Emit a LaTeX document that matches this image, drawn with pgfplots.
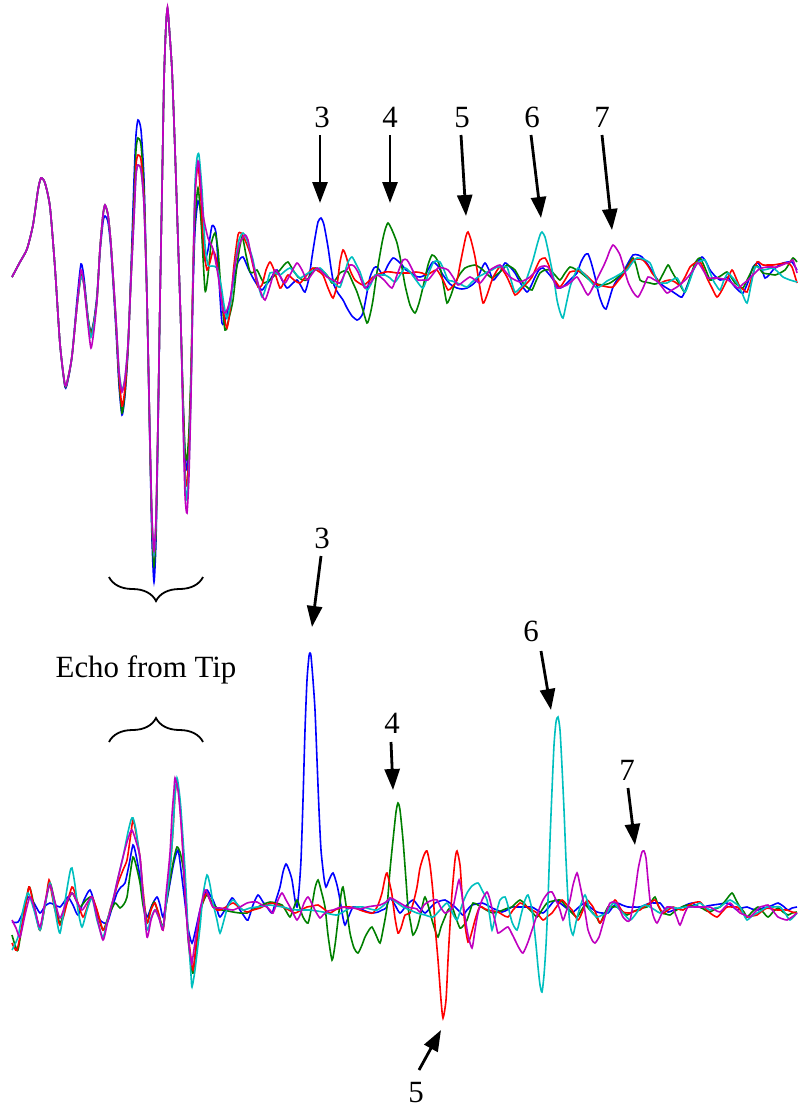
\documentclass[border=0pt]{standalone}
\usepackage{fontspec}
\setmainfont{Liberation Serif}
\usepackage{pgfplots}
\pgfplotsset{compat=1.18}
\usetikzlibrary{arrows.meta,decorations.pathreplacing}
\definecolor{cB}{RGB}{0,0,255}
\definecolor{cG}{RGB}{0,128,0}
\definecolor{cR}{RGB}{255,0,0}
\definecolor{cC}{RGB}{0,191,191}
\definecolor{cM}{RGB}{191,0,191}
\begin{document}
\begin{tikzpicture}
\begin{axis}[width=797bp,height=1109bp,scale only axis,xmin=0,xmax=797,ymin=0,ymax=1109,y dir=reverse,hide axis,clip=false,
  every axis plot/.append style={no marks,line width=1.6bp,smooth,tension=0.4}]
% ---------------- TOP PANEL ----------------
\addplot[cB] coordinates {(12,277) (20,262) (27,249) (33,225) (38,190) (41,178) (45,183) (50,207) (55,268) (60,344) (65,387) (68,380) (72,356) (77,300) (81,264) (84,278) (88,318) (91,332) (94,320) (97,295) (100,252) (103,222) (105,216) (108,222) (111,250) (116,330) (119,385) (122,415) (125,395) (128,350) (131,270) (134,180) (136,135) (138,120) (141,130) (144,180) (147,300) (150,450) (152,540) (154,582) (156,540) (158,430) (160,300) (162,191) (164,80) (166,25) (167.5,10) (169,25) (172,70) (175,150) (178,240) (181,330) (183,400) (185,455) (187,470) (189,440) (191,383) (193,290) (195,230) (198,201) (201,215) (204,260) (208,250) (212,226) (216,233) (219,280) (222,323) (226,318) (230,300) (234,280) (238,262) (243,257) (248,268) (253,278) (258,286) (262,290) (266,285) (270,280) (274,273) (277,270) (282,280) (287,288) (292,284) (297,280) (301,286) (305,292) (309,278) (312,257) (315,238) (318,222) (321,218) (324,225) (328,247) (331,268) (334,285) (338,293) (343,300) (347,308) (352,316) (357,320) (360,318) (363,313) (366,298) (370,277) (374,268) (377,267) (380,271) (383,275) (388,265) (393,258) (398,261) (402,265) (406,270) (410,272) (415,276) (420,277) (425,275) (429,268) (433,262) (438,266) (443,275) (450,284) (457,288) (462,289) (467,288) (472,285) (477,280) (481,270) (485,263) (489,270) (493,280) (497,276) (500,272) (505,263) (510,267) (515,273) (521,284) (527,292) (531,286) (535,277) (539,270) (543,268) (548,273) (552,278) (556,284) (560,288) (564,286) (568,282) (572,278) (577,273) (581,262) (585,255) (588,254) (591,262) (595,277) (599,295) (603,306) (606,309) (609,300) (613,287) (617,280) (622,275) (627,265) (633,255) (638,255) (642,257) (646,262) (650,268) (655,276) (660,283) (665,287) (670,290) (676,294) (682,297) (687,286) (692,273) (697,263) (702,257) (706,262) (710,270) (715,276) (720,280) (724,279) (728,277) (731,282) (735,287) (739,291) (743,293) (748,282) (753,267) (758,263) (762,270) (765,278) (769,275) (773,270) (778,266) (783,263) (788,262) (792,262) (797,270)};
\addplot[cG] coordinates {(12,277) (20,262) (27,249) (33,225) (38,190) (41,178) (45,183) (50,207) (55,268) (60,344) (65,386) (68,379) (72,356) (77,306) (81,275) (84,283) (88,318) (91,333) (94,321) (97,298) (100,249) (103,215) (105,206) (108,215) (111,245) (116,325) (119,380) (122,413) (125,392) (128,348) (131,275) (134,200) (136,150) (138,138) (141,145) (144,190) (147,300) (150,445) (152,530) (154,566) (156,530) (158,425) (160,300) (162,191) (164,80) (166,25) (167.5,9) (169,25) (172,70) (175,150) (178,240) (181,330) (183,395) (185,450) (187,459) (189,430) (191,370) (193,280) (195,220) (198,188) (201,220) (205,290) (208,275) (211,245) (215,233) (218,250) (221,290) (225,330) (229,318) (233,300) (237,265) (242,237) (246,255) (250,272) (254,272) (257,270) (261,278) (264,283) (268,281) (272,278) (276,274) (280,270) (284,265) (288,262) (293,270) (298,277) (303,280) (307,280) (311,274) (315,268) (320,270) (325,273) (329,278) (332,283) (336,279) (340,273) (344,271) (348,272) (353,283) (357,292) (362,307) (367,323) (370,315) (373,300) (377,272) (382,243) (385,230) (388,223) (392,230) (397,243) (401,262) (405,285) (410,305) (415,313) (419,303) (423,287) (428,265) (432,255) (436,258) (440,267) (444,288) (447,303) (451,295) (455,283) (460,274) (465,268) (470,266) (475,265) (479,267) (483,270) (488,275) (492,278) (496,275) (500,272) (504,268) (507,265) (511,267) (515,270) (519,277) (523,283) (528,288) (532,290) (536,281) (540,273) (545,270) (550,270) (555,275) (560,280) (565,273) (570,267) (575,269) (580,272) (586,277) (592,282) (597,284) (603,285) (610,283) (617,278) (622,273) (627,267) (630,262) (633,258) (636,265) (640,280) (645,282) (650,283) (654,284) (658,283) (663,274) (668,265) (671,270) (675,277) (680,285) (685,292) (690,278) (695,263) (700,258) (705,268) (710,280) (713,279) (717,278) (722,275) (727,272) (731,277) (735,283) (739,286) (743,288) (749,276) (755,265) (759,268) (763,273) (769,274) (775,275) (780,273) (785,270) (789,264) (793,258) (797,262)};
\addplot[cR] coordinates {(12,277) (20,262) (27,249) (33,225) (38,190) (41,178) (45,183) (50,207) (55,268) (60,344) (65,385) (68,378) (72,356) (77,306) (81,277) (84,285) (88,320) (91,336) (94,322) (97,300) (100,249) (103,215) (105,205) (108,215) (111,245) (116,322) (119,375) (122,406) (125,388) (128,346) (131,278) (134,210) (136,165) (138,155) (141,160) (144,200) (147,300) (150,442) (152,522) (154,555) (156,522) (158,421) (160,300) (162,191) (164,80) (166,25) (167.5,8) (169,25) (172,70) (175,150) (178,240) (181,330) (183,405) (185,470) (187,486) (189,450) (191,383) (193,270) (195,195) (198,165) (201,200) (204,250) (207,270) (210,262) (213,251) (216,258) (220,285) (224,315) (227,328) (230,310) (234,265) (238,235) (241,233) (245,240) (250,253) (254,270) (258,287) (262,285) (266,270) (270,262) (274,270) (280,288) (284,282) (288,275) (294,280) (300,283) (306,276) (313,268) (318,271) (323,275) (328,288) (333,298) (337,285) (340,262) (343,250) (346,256) (350,270) (355,280) (363,285) (368,282) (373,277) (379,274) (385,272) (391,272) (397,273) (403,273) (410,273) (416,272) (422,273) (427,275) (432,272) (437,270) (443,280) (448,290) (452,287) (457,280) (460,265) (463,250) (466,236) (468,232) (471,240) (475,257) (479,282) (483,303) (487,295) (492,280) (496,272) (500,267) (504,272) (507,277) (511,286) (515,295) (519,292) (523,287) (528,282) (532,277) (536,268) (540,260) (545,258) (549,266) (552,277) (556,282) (560,287) (565,280) (570,272) (576,271) (582,272) (588,277) (593,282) (598,285) (603,286) (608,287) (613,287) (618,281) (623,275) (628,267) (633,260) (638,259) (643,260) (648,266) (652,273) (656,278) (660,283) (665,281) (670,280) (675,282) (680,285) (685,277) (690,267) (695,263) (700,262) (704,270) (707,278) (712,288) (717,297) (722,290) (727,280) (732,270) (736,278) (740,287) (744,290) (747,292) (752,277) (757,262) (760,263) (763,265) (768,265) (773,265) (779,264) (785,263) (789,264) (792,267) (797,283)};
\addplot[cC] coordinates {(12,277) (20,262) (27,249) (33,225) (38,190) (41,178) (45,183) (50,207) (55,268) (60,344) (65,385) (68,378) (72,356) (77,306) (81,277) (84,285) (88,320) (91,337) (94,323) (97,300) (100,249) (103,215) (105,205) (108,215) (111,245) (116,320) (119,370) (122,390) (125,378) (128,344) (131,280) (134,218) (136,175) (138,165) (141,170) (144,205) (147,300) (150,440) (152,520) (154,555) (156,520) (158,421) (160,300) (162,191) (164,80) (166,25) (167.5,8) (169,25) (172,70) (175,150) (178,240) (181,330) (183,410) (185,480) (187,500) (189,465) (191,390) (193,280) (195,185) (197,158) (199,155) (202,190) (205,245) (208,265) (212,266) (217,268) (221,285) (224,305) (227,318) (231,300) (235,265) (239,240) (243,233) (247,240) (250,250) (253,260) (257,280) (262,297) (266,287) (270,273) (275,273) (280,275) (285,271) (290,268) (295,273) (300,278) (305,275) (310,272) (315,270) (320,268) (325,273) (330,280) (335,284) (340,287) (344,275) (348,262) (352,257) (356,264) (360,272) (363,281) (367,290) (371,284) (375,275) (380,275) (385,275) (390,278) (395,282) (400,275) (405,268) (410,272) (416,280) (423,288) (428,275) (433,263) (436,261) (440,262) (444,270) (448,280) (452,281) (457,283) (462,285) (467,287) (472,282) (478,277) (482,275) (487,272) (492,270) (497,267) (502,267) (507,267) (511,280) (515,292) (520,288) (525,283) (529,272) (533,260) (537,245) (540,235) (542,232) (545,237) (548,250) (550,260) (554,280) (557,300) (560,312) (563,318) (566,305) (570,287) (574,276) (578,268) (582,272) (587,277) (592,283) (597,288) (602,285) (607,281) (613,278) (620,274) (627,270) (632,263) (637,258) (643,259) (650,263) (654,273) (658,283) (662,283) (667,283) (672,280) (677,278) (681,285) (685,292) (690,280) (694,268) (697,263) (701,261) (705,260) (709,270) (713,280) (716,285) (720,290) (724,280) (728,273) (732,277) (737,283) (742,293) (747,303) (751,285) (755,267) (759,268) (763,270) (768,269) (773,268) (778,272) (783,277) (790,280) (797,282)};
\addplot[cM] coordinates {(12,277) (20,262) (27,249) (33,225) (38,190) (41,178) (45,183) (50,207) (55,268) (60,344) (65,385) (68,378) (72,356) (77,306) (81,270) (84,285) (88,325) (91,348) (94,330) (97,300) (100,249) (103,215) (105,205) (108,215) (111,245) (116,320) (119,372) (122,392) (125,378) (128,344) (131,280) (134,218) (136,175) (138,165) (141,170) (144,205) (147,300) (150,440) (152,518) (154,551) (156,518) (158,421) (160,300) (162,191) (164,80) (166,25) (167.5,7) (169,25) (172,70) (175,150) (178,240) (181,330) (183,420) (185,495) (187,513) (189,475) (191,395) (193,285) (195,195) (198,161) (200,175) (203,214) (208,238) (213,249) (218,275) (223,310) (226,312) (230,300) (235,265) (240,243) (245,235) (248,240) (251,255) (255,272) (260,290) (265,300) (270,286) (275,270) (280,276) (285,283) (291,273) (297,263) (302,270) (307,280) (312,274) (317,268) (322,272) (327,277) (333,280) (340,283) (345,273) (350,265) (354,266) (358,272) (362,282) (365,288) (371,282) (377,275) (384,280) (392,288) (397,275) (403,260) (407,260) (410,265) (414,273) (418,280) (423,280) (428,280) (433,274) (438,268) (443,268) (448,270) (453,277) (458,285) (464,281) (470,277) (475,280) (480,283) (485,277) (490,270) (495,267) (500,265) (505,271) (510,277) (515,280) (520,282) (525,280) (530,277) (535,272) (540,267) (544,266) (548,267) (552,276) (557,288) (562,287) (567,285) (572,281) (577,277) (582,285) (588,295) (594,285) (600,273) (604,265) (607,258) (610,250) (613,245) (616,248) (620,255) (624,268) (628,282) (633,292) (638,297) (643,288) (648,277) (653,279) (658,282) (662,287) (667,293) (672,290) (677,287) (682,283) (688,277) (693,270) (698,263) (703,270) (708,278) (713,278) (718,278) (723,279) (728,280) (733,284) (738,288) (743,284) (748,280) (753,275) (758,270) (762,268) (767,267) (772,267) (777,267) (782,265) (787,263) (790,262) (793,260) (797,273)};
% ---------------- BOTTOM PANEL ----------------
\addplot[cB] coordinates {(12,922) (18,922) (23,912) (28,897) (34,903) (40,913) (45,906) (50,903) (55,905) (60,907) (64,902) (68,897) (73,905) (78,915) (84,900) (90,890) (95,905) (100,920) (107,923) (112,908) (117,893) (121,887) (125,883) (129,865) (133,845) (136,855) (140,877) (143,900) (147,917) (152,905) (157,897) (160,905) (163,917) (167,900) (170,883) (174,862) (178,850) (181,870) (185,903) (188,928) (192,943) (196,928) (200,910) (204,897) (207,890) (210,895) (213,900) (217,910) (220,917) (226,908) (232,898) (236,903) (240,910) (244,916) (248,920) (253,905) (258,895) (263,902) (267,907) (272,913) (276,900) (280,887) (283,872) (286,864) (289,870) (292,880) (295,900) (297,907) (299,890) (301,860) (303,800) (305,730) (307,680) (309,656) (310,653) (311,656) (313,680) (315,710) (317,760) (319,810) (321,850) (324,878) (326,887) (329,880) (333,873) (337,885) (340,900) (343,918) (345,925) (348,918) (353,907) (358,908) (363,910) (368,912) (373,913) (378,912) (382,910) (386,908) (390,898) (395,905) (400,913) (406,906) (413,900) (419,907) (425,913) (430,908) (435,903) (440,901) (445,900) (450,903) (455,907) (459,911) (463,915) (467,910) (472,905) (477,904) (482,903) (487,905) (492,908) (497,910) (502,912) (507,910) (512,907) (517,907) (522,907) (527,907) (532,907) (537,910) (543,913) (549,907) (555,900) (560,903) (565,907) (569,910) (573,912) (579,907) (585,903) (591,908) (597,912) (602,913) (608,913) (612,908) (617,903) (622,905) (628,907) (634,907) (640,907) (645,905) (650,903) (655,903) (660,903) (664,908) (668,912) (674,910) (680,908) (686,905) (692,903) (697,906) (702,908) (707,906) (713,905) (720,904) (727,903) (732,906) (737,910) (742,908) (747,907) (752,909) (758,910) (763,908) (768,907) (773,905) (778,903) (783,906) (788,910) (792,908) (797,907)};
\addplot[cG] coordinates {(12,935) (15,945) (18,950) (23,920) (29,887) (34,905) (40,930) (45,905) (50,883) (55,903) (60,923) (66,905) (72,893) (76,900) (80,907) (86,900) (92,897) (97,912) (103,930) (109,915) (115,903) (120,908) (124,904) (127,897) (130,875) (133,857) (136,865) (140,883) (143,905) (147,923) (150,912) (154,902) (158,912) (163,927) (166,905) (170,880) (174,858) (177,847) (180,852) (183,867) (186,900) (188,937) (191,965) (193,973) (196,950) (200,913) (204,900) (207,895) (212,902) (217,908) (222,910) (228,911) (233,912) (240,913) (247,913) (252,910) (258,907) (264,904) (270,902) (276,903) (282,905) (286,911) (290,917) (293,910) (297,900) (300,908) (303,917) (308,923) (312,905) (315,888) (318,880) (321,890) (325,907) (328,935) (332,960) (335,945) (338,920) (341,895) (343,887) (346,905) (350,933) (354,948) (358,953) (362,945) (365,937) (369,930) (372,927) (376,935) (380,943) (383,930) (387,907) (390,870) (393,840) (396,812) (398,803) (400,810) (403,840) (406,880) (408,907) (411,925) (413,935) (417,928) (420,917) (423,903) (425,897) (428,905) (432,920) (435,930) (438,937) (441,927) (445,917) (448,910) (452,907) (456,918) (460,928) (464,925) (467,920) (470,911) (473,903) (478,905) (483,908) (488,911) (493,913) (498,912) (503,910) (508,908) (512,907) (516,903) (520,900) (524,903) (527,907) (532,912) (537,917) (542,910) (547,903) (553,901) (560,900) (564,904) (567,908) (572,913) (577,917) (581,911) (585,905) (589,909) (593,913) (597,918) (600,923) (604,915) (608,907) (613,907) (617,907) (622,911) (627,915) (632,912) (637,910) (642,908) (647,907) (651,902) (655,897) (658,905) (662,913) (666,914) (670,915) (675,911) (680,908) (684,906) (688,905) (694,906) (700,907) (705,910) (710,912) (715,909) (720,907) (726,900) (732,893) (736,900) (740,907) (744,912) (747,917) (752,912) (758,907) (763,912) (768,917) (773,912) (778,908) (783,912) (788,915) (792,913) (797,912)};
\addplot[cR] coordinates {(12,943) (17,950) (23,920) (29,887) (33,903) (37,920) (40,930) (45,905) (49,880) (52,895) (55,910) (60,925) (64,915) (67,903) (72,887) (75,893) (77,900) (83,917) (88,905) (92,897) (97,910) (103,930) (107,922) (110,910) (114,897) (118,883) (123,870) (127,860) (130,840) (133,820) (136,833) (140,857) (143,890) (147,923) (151,910) (155,903) (159,915) (163,930) (166,905) (170,870) (173,830) (175,795) (177,783) (179,795) (181,820) (183,853) (185,890) (187,920) (190,950) (193,970) (196,945) (200,913) (204,898) (207,893) (210,900) (213,907) (217,910) (220,910) (226,907) (233,903) (240,908) (247,912) (253,910) (260,908) (266,905) (272,903) (278,905) (283,907) (289,910) (295,913) (301,910) (307,907) (313,906) (318,905) (324,909) (330,913) (335,910) (340,908) (345,907) (350,907) (355,908) (360,910) (366,912) (373,913) (378,905) (382,893) (385,878) (387,873) (390,885) (392,895) (395,918) (398,933) (401,928) (405,915) (410,913) (414,900) (417,887) (420,868) (424,855) (427,851) (430,865) (433,893) (435,925) (438,960) (441,1000) (443,1018) (446,1000) (448,960) (450,925) (452,893) (455,860) (457,851) (460,865) (462,893) (465,925) (468,942) (471,935) (475,920) (479,908) (482,907) (485,909) (488,910) (493,911) (498,912) (503,915) (508,917) (513,910) (520,903) (524,905) (527,907) (532,910) (537,913) (543,920) (548,916) (552,913) (557,906) (562,900) (567,905) (572,910) (578,920) (583,910) (587,900) (590,903) (593,907) (597,916) (600,923) (605,915) (610,908) (615,900) (619,906) (623,912) (630,913) (635,911) (640,910) (645,906) (650,903) (655,900) (659,907) (663,913) (668,910) (673,907) (678,909) (683,910) (688,906) (693,903) (700,902) (705,908) (710,913) (717,917) (722,912) (727,907) (732,907) (737,907) (742,912) (747,917) (752,916) (757,915) (762,911) (767,908) (772,909) (777,910) (782,910) (787,910) (792,912) (797,913)};
\addplot[cC] coordinates {(12,950) (18,937) (23,910) (28,893) (34,910) (40,930) (45,905) (50,883) (55,910) (60,933) (66,895) (70,872) (72,868) (75,885) (78,910) (82,927) (87,910) (92,898) (97,920) (103,937) (108,918) (113,900) (118,878) (123,857) (128,832) (131,820) (133,818) (136,830) (140,860) (143,895) (147,930) (151,918) (155,910) (159,918) (163,928) (166,905) (170,870) (173,830) (175,795) (177,778) (179,790) (181,810) (185,870) (188,930) (191,975) (192,987) (195,970) (200,927) (203,895) (207,875) (210,885) (213,903) (217,920) (220,933) (224,920) (228,906) (233,900) (238,905) (243,910) (250,908) (257,907) (263,906) (270,905) (276,906) (283,907) (290,909) (297,910) (303,910) (310,910) (317,911) (323,912) (330,914) (337,915) (343,912) (350,908) (357,907) (363,907) (370,909) (377,910) (384,905) (390,898) (396,902) (403,907) (410,910) (417,913) (425,915) (433,917) (440,910) (447,903) (452,912) (457,920) (462,905) (467,893) (472,886) (478,883) (482,890) (487,900) (490,918) (492,930) (495,918) (500,900) (505,897) (508,906) (512,922) (517,930) (521,915) (525,900) (528,895) (531,905) (533,917) (536,945) (538,967) (540,985) (542,992) (544,975) (546,945) (548,900) (550,840) (552,790) (554,745) (556,722) (558,717) (560,730) (562,767) (564,810) (566,860) (568,900) (570,925) (573,935) (576,922) (580,907) (585,895) (590,910) (597,917) (602,915) (607,913) (613,903) (618,908) (623,913) (630,920) (635,915) (640,908) (645,905) (650,907) (655,910) (660,913) (665,910) (670,907) (675,908) (680,908) (686,907) (692,907) (696,905) (700,903) (705,907) (710,910) (715,908) (720,907) (725,903) (730,900) (735,903) (740,907) (744,915) (747,920) (752,916) (757,913) (762,910) (767,907) (773,907) (780,907) (785,913) (790,920) (797,913)};
\addplot[cM] coordinates {(12,920) (16,928) (20,937) (25,915) (30,897) (35,910) (40,927) (45,902) (50,885) (55,902) (60,918) (66,903) (72,893) (77,902) (82,910) (87,903) (92,897) (97,917) (103,940) (108,920) (113,900) (118,878) (123,857) (127,842) (130,833) (132,830) (135,838) (140,857) (143,895) (147,937) (151,920) (155,910) (159,918) (163,930) (166,895) (170,853) (172,815) (174,790) (175,778) (178,790) (180,810) (182,837) (185,890) (188,937) (191,960) (192,963) (196,935) (200,910) (205,890) (209,898) (213,907) (220,908) (227,909) (233,910) (240,907) (247,903) (252,902) (257,902) (262,905) (267,907) (270,910) (273,913) (278,900) (282,893) (286,900) (290,907) (294,915) (297,920) (300,915) (304,903) (308,897) (312,904) (316,912) (320,918) (323,915) (328,911) (333,910) (338,908) (343,907) (348,908) (353,908) (360,909) (367,907) (373,906) (380,905) (386,902) (390,898) (395,900) (400,903) (407,907) (413,908) (417,909) (420,912) (424,905) (428,902) (433,900) (437,900) (441,908) (445,913) (449,911) (453,907) (456,893) (459,880) (462,895) (465,917) (468,935) (472,948) (475,930) (478,913) (482,900) (487,892) (490,900) (493,913) (496,925) (498,933) (503,930) (508,927) (512,934) (515,940) (519,948) (523,953) (528,942) (533,927) (538,912) (543,900) (548,893) (552,892) (556,900) (560,910) (563,920) (566,912) (570,900) (573,885) (577,873) (580,885) (583,900) (586,918) (588,930) (592,940) (595,943) (599,937) (602,927) (606,913) (610,903) (614,902) (617,903) (620,910) (623,917) (627,921) (630,920) (633,905) (636,885) (638,870) (640,860) (642,852) (644,851) (646,858) (648,880) (650,900) (653,915) (657,923) (662,913) (667,907) (670,907) (673,908) (677,918) (680,925) (684,915) (688,907) (694,907) (700,907) (705,907) (710,907) (715,910) (720,912) (725,907) (730,903) (735,908) (740,913) (745,915) (750,917) (755,912) (760,907) (764,906) (768,905) (773,911) (778,917) (783,919) (787,920) (792,917) (797,913)};
% ---------------- ANNOTATIONS ----------------
\path (axis cs:0,0) rectangle (axis cs:797,1109);
\tikzset{lab/.style={anchor=base,inner sep=0pt,font=\fontsize{31}{36}\selectfont},
         arr/.style={line width=2.8bp,-{Triangle[length=21bp,width=15bp]}}}
\node[lab] at (axis cs:322,127) {3};
\node[lab] at (axis cs:390,127) {4};
\node[lab] at (axis cs:462,127) {5};
\node[lab] at (axis cs:532,127) {6};
\node[lab] at (axis cs:602,127) {7};
\draw[arr] (axis cs:320,135) -- (axis cs:320,203);
\draw[arr] (axis cs:390,135) -- (axis cs:390,203);
\draw[arr] (axis cs:461,135) -- (axis cs:466,216);
\draw[arr] (axis cs:531,135) -- (axis cs:541,218);
\draw[arr] (axis cs:602,135) -- (axis cs:612,230);
\node[lab] at (axis cs:322,548) {3};
\draw[arr] (axis cs:321,556) -- (axis cs:312,627);
\node[lab] at (axis cs:392,733) {4};
\draw[arr] (axis cs:391,742) -- (axis cs:393,790);
\node[lab] at (axis cs:531,641) {6};
\draw[arr] (axis cs:541,651) -- (axis cs:551,710);
\node[lab] at (axis cs:627,780) {7};
\draw[arr] (axis cs:628,788) -- (axis cs:635,845);
\node[lab] at (axis cs:416,1102) {5};
\draw[arr] (axis cs:419,1070) -- (axis cs:441,1030);
\node[lab] at (axis cs:146,677) {Echo from Tip};
\draw[line width=1.8bp,decorate,decoration={brace,amplitude=24bp}] (axis cs:203,577) -- (axis cs:109,577);
\draw[line width=1.8bp,decorate,decoration={brace,amplitude=24bp}] (axis cs:109,742) -- (axis cs:203,742);
\end{axis}
\end{tikzpicture}
\end{document}
